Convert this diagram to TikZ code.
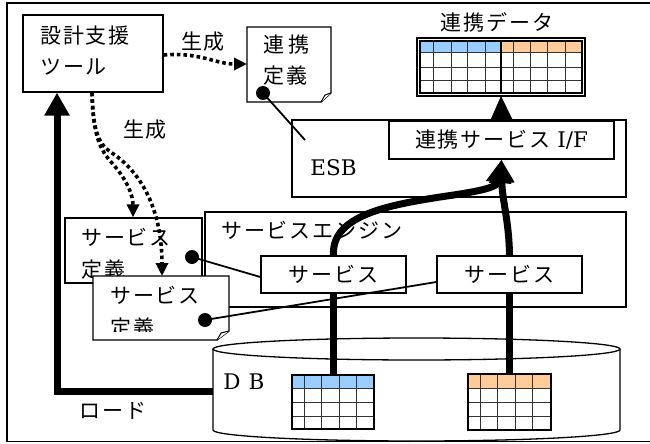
\documentclass[tikz,border=0pt]{standalone}
\usepackage{fontspec}
\newfontfamily\cjk[LetterSpace=9]{Noto Sans CJK JP}
\newfontfamily\latfam{DejaVu Serif}
\usetikzlibrary{arrows.meta,calc}
\definecolor{hdrblue}{RGB}{153,204,255}
\definecolor{hdrorange}{RGB}{255,204,153}
\newcommand{\jpf}{\cjk\fontsize{21}{25}\selectfont}
\newcommand{\lat}{\latfam\fontsize{21.5}{26}\selectfont}
\tikzset{
  box/.style={draw, line width=1.3pt, fill=white, inner sep=0pt},
  ghost/.style={inner sep=0pt, outer sep=0pt},
  lbl/.style={inner sep=0pt, font=\jpf},
  dotline/.style={line width=3.6pt, dash pattern=on 3.6pt off 3pt},
  dotarrow/.style={dotline, -{Triangle[length=13pt,width=12pt]}},
  thickline/.style={line width=6.5pt},
  thickarrow/.style={line width=7pt, -{Triangle[length=23pt,width=24pt]}},
  conn/.style={line width=1.8pt},
  dotn/.style={circle, fill=black, minimum size=14pt, inner sep=0pt},
  grid/.style={line width=1pt, black!80},
}
\begin{document}
\begin{tikzpicture}[x=1pt,y=-1pt]
\useasboundingbox (0,0) rectangle (650,444);
\clip (0,0) rectangle (650,444);
% outer frame
\draw[line width=1.3pt] (7,3) rectangle (660,441.5);

% design tool
\node[box, minimum width=140pt, minimum height=77pt] (tool) at (93,53.5) {};
\node[lbl, anchor=west] (toolA) at (40,36) {設計支援};
\node[lbl, anchor=west] (toolB) at (40,67) {ツール};

% link definition document
\node[ghost, minimum width=84pt, minimum height=75pt] (def1) at (289,64.5) {};
\draw[line width=1.3pt, fill=white] (def1.north west) -- (def1.north east) -- (331,93) -- (321,102) -- (def1.south west) -- cycle;
\draw[line width=1pt, fill=white] (321,102) -- (325,95) -- (331,93);
\node[lbl, anchor=west] (def1A) at (263,45) {連\hspace{4pt}携};
\node[lbl, anchor=west] (def1B) at (263,76) {定義};

% ESB
\node[box, minimum width=334pt, minimum height=77pt] (esb) at (459,158.5) {};
\node[inner sep=0pt, font=\lat] (esbT) at (333.5,168) {ESB};
\node[box, minimum width=225pt, minimum height=38pt] (ifbox) at (501.5,140) {};
\node[inner sep=0pt, font=\lat] (ifT) at (501.5,140) {{\jpf 連携サービス} I/F};

% link data table
\node[lbl] (dataT) at (497,22) {連携データ};
\node[ghost, minimum width=168pt, minimum height=58pt] (datatbl) at (501,67) {};
\fill[hdrblue] (420,41) rectangle (501,53);
\fill[hdrorange] (501,41) rectangle (582,53);
\foreach \yy in {53,67,80} \draw[grid] (420,\yy) -- (582,\yy);
\foreach \xx in {433,451,467,485,513,530,547,565} \draw[grid] (\xx,41) -- (\xx,93);
\draw[line width=1.5pt] (501,41) -- (501,93);
\draw[line width=1.5pt] (417,38) rectangle (585,96);
\draw[line width=1.5pt] (420,41) rectangle (582,93);

% service engine
\node[box, minimum width=421pt, minimum height=95pt] (engine) at (415.5,259.5) {};
\node[lbl, anchor=west] (engT) at (221,230) {サービスエンジン};
\node[box, minimum width=145pt, minimum height=37pt] (svc1) at (333.5,274.5) {};
\node[lbl] (svc1T) at (333.5,274.5) {サービス};
\node[box, minimum width=145pt, minimum height=37pt] (svc2) at (509.5,274.5) {};
\node[lbl] (svc2T) at (509.5,274.5) {サービス};

% service definition 1
\node[box, minimum width=137pt, minimum height=65pt] (sdef1) at (133.5,250.5) {};
\node[lbl, anchor=west] (sdef1A) at (81,237) {サービス};
\node[lbl, anchor=west] (sdef1B) at (81,270) {定義};

% service definition 2
\node[ghost, minimum width=136pt, minimum height=64pt] (sdef2) at (161,308) {};
\draw[line width=1.3pt, fill=white] (sdef2.north west) -- (sdef2.north east) -- (229,331) -- (217,340) -- (sdef2.south west) -- cycle;
\draw[line width=1pt, fill=white] (217,340) -- (221,333) -- (229,331);
\node[lbl, anchor=west] (sdef2A) at (110,295) {サービス};
\begin{scope}
\clip (95,300) rectangle (225,331);
\node[lbl, anchor=west] (sdef2B) at (110,328) {定義};
\end{scope}

% DB cylinder
\node[ghost, minimum width=407pt, minimum height=80pt] (db) at (416.5,391) {};
\draw[line width=1.3pt, fill=white] (213,349) -- (213,430) arc[start angle=180, end angle=360, x radius=203.5pt, y radius=11pt] -- (620,349);
\draw[line width=1.3pt, fill=white] (416.5,349) ellipse [x radius=203.5pt, y radius=11pt];
\node[inner sep=0pt, font=\lat] (dbT) at (244,382) {D\hspace{8pt}B};

% DB table A
\node[ghost, minimum width=82pt, minimum height=54pt] (tblA) at (333,402) {};
\fill[hdrblue] (292,375) rectangle (374,388);
\foreach \yy in {388,402,416} \draw[grid] (292,\yy) -- (374,\yy);
\foreach \xx in {304,321,339,356} \draw[grid] (\xx,375) -- (\xx,429);
\draw[line width=1.8pt] (292,375) rectangle (374,429);
% DB table B
\node[ghost, minimum width=83pt, minimum height=56pt] (tblB) at (509.5,402) {};
\fill[hdrorange] (468,374) rectangle (551,388);
\foreach \yy in {388,402,416} \draw[grid] (468,\yy) -- (551,\yy);
\foreach \xx in {480,497,515,532} \draw[grid] (\xx,374) -- (\xx,430);
\draw[line width=1.8pt] (468,374) rectangle (551,430);

\node[lbl] (loadT) at (113,411) {ロード};

% thick connectors
\draw[thickarrow] (db.west) -| ([xshift=-36pt]tool.south);
\draw[thickline] (svc1.south) -- (svc1.south |- tblA.north);
\draw[thickline] (svc2.south) -- (svc2.south |- tblB.north);
\draw[thickarrow] (svc1.north) .. controls (331,215) and (390,205) .. (440,197) .. controls (475,192) and (498,188) .. (ifbox.south);
\draw[thickarrow] (svc2.north) .. controls (509,220) and (502,200) .. (ifbox.south);
\draw[line width=1pt, -{Triangle[length=24pt,width=22pt]}] (ifbox.north) -- (datatbl.south);

% dotted generation arrows
\node[lbl] (gen1) at (203,42) {生成};
\node[lbl] (gen2) at (145,130) {生成};
\draw[dotarrow] ([yshift=-1.5pt]tool.east) .. controls (200,52) and (215,64) .. (def1.west |- 0,64);
\draw[dotarrow] ([xshift=-1pt]tool.south) .. controls (93,135) and (100,150) .. (112,163) .. controls (127,180) and (133,195) .. (sdef1.north -| 133,0);
\draw[dotarrow] ([xshift=-1pt]tool.south) .. controls (93,135) and (100,145) .. (112,153) .. controls (145,175) and (162,215) .. (sdef2.north -| 162,0);

% dot connectors
\coordinate (eA) at (305,140);
\draw[conn] (263,93) -- (eA);
\node[dotn] (dA) at (263,93) {};
\draw[conn] (192,257) -- ([yshift=-2.5pt]svc1.west);
\node[dotn] (dB) at (192,257) {};
\draw[conn] (205,320) -- ([yshift=-7.5pt]svc2.west);
\node[dotn] (dC) at (205,320) {};
\end{tikzpicture}
\end{document}
